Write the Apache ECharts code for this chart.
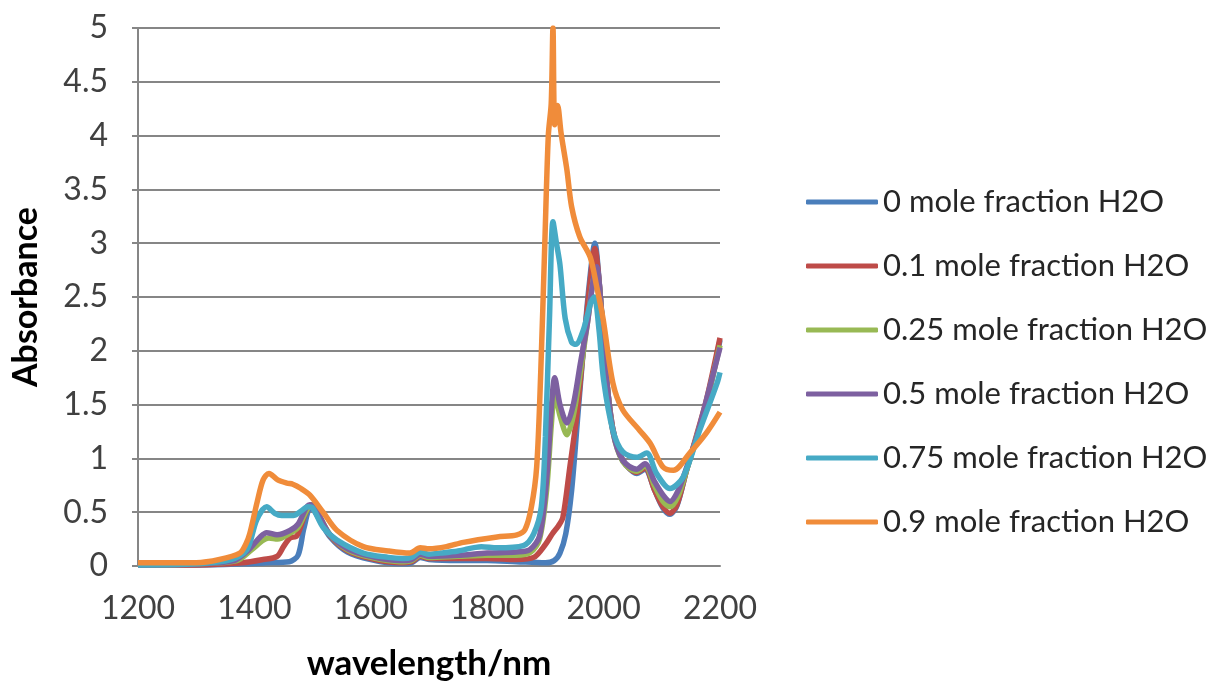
<!DOCTYPE html>
<html>
<head>
<meta charset="utf-8">
<script src="https://cdn.jsdelivr.net/npm/echarts@6/dist/echarts.min.js"></script>
<style>
  html, body { margin: 0; padding: 0; background: #fff; }
  #chart { width: 1223px; height: 683px; }
</style>
</head>
<body>
<div id="chart"></div>
<script>
// 各浓度的吸收光谱 [波长 nm, 吸光度]
var seriesNames = [
  "0 mole fraction H2O",
  "0.1 mole fraction H2O",
  "0.25 mole fraction H2O",
  "0.5 mole fraction H2O",
  "0.75 mole fraction H2O",
  "0.9 mole fraction H2O",
];

var water0 = [
  [1200, 0.01], [1300, 0.01], [1380, 0.02], [1420, 0.03], [1460, 0.04], [1475, 0.1],
  [1485, 0.35], [1497, 0.55], [1510, 0.45], [1530, 0.27], [1560, 0.13], [1600, 0.06],
  [1650, 0.02], [1670, 0.03], [1685, 0.08], [1700, 0.06], [1750, 0.05], [1800, 0.05],
  [1850, 0.04], [1900, 0.03], [1915, 0.05], [1925, 0.12], [1935, 0.3], [1945, 0.7],
  [1955, 1.35], [1965, 2.0], [1975, 2.6], [1985, 3.0], [1993, 2.6], [2003, 1.85],
  [2015, 1.3], [2027, 1.05], [2040, 0.93], [2057, 0.86], [2071, 0.9], [2088, 0.7],
  [2102, 0.54], [2114, 0.48], [2126, 0.56], [2143, 0.9], [2160, 1.2], [2177, 1.5],
  [2200, 2.1],
];

var water01 = [
  [1200, 0.01], [1300, 0.01], [1380, 0.03], [1415, 0.06], [1439, 0.09], [1450, 0.18],
  [1461, 0.26], [1473, 0.28], [1487, 0.48], [1497, 0.57], [1510, 0.47], [1530, 0.28],
  [1560, 0.14], [1600, 0.07], [1650, 0.03], [1670, 0.04], [1685, 0.09], [1700, 0.07],
  [1750, 0.07], [1800, 0.07], [1850, 0.06], [1880, 0.08], [1900, 0.2], [1912, 0.3],
  [1922, 0.37], [1930, 0.45], [1942, 0.92], [1954, 1.4], [1965, 2.0], [1975, 2.55],
  [1985, 2.95], [1993, 2.6], [2003, 1.85], [2015, 1.3], [2027, 1.05], [2040, 0.93],
  [2057, 0.87], [2071, 0.91], [2088, 0.7], [2102, 0.55], [2114, 0.49], [2126, 0.57],
  [2143, 0.9], [2160, 1.22], [2177, 1.55], [2200, 2.12],
];

var water025 = [
  [1200, 0.01], [1300, 0.02], [1370, 0.05], [1395, 0.15], [1415, 0.24], [1425, 0.26],
  [1440, 0.25], [1460, 0.3], [1475, 0.36], [1490, 0.52], [1498, 0.57], [1510, 0.48],
  [1530, 0.29], [1560, 0.15], [1600, 0.08], [1650, 0.04], [1670, 0.05], [1685, 0.1],
  [1700, 0.08], [1750, 0.09], [1800, 0.1], [1850, 0.1], [1875, 0.13], [1890, 0.25],
  [1902, 0.7], [1910, 1.3], [1916, 1.6], [1925, 1.4], [1937, 1.22], [1948, 1.4],
  [1960, 1.8], [1972, 2.25], [1982, 2.65], [1988, 2.75], [1996, 2.4], [2005, 1.75],
  [2016, 1.25], [2033, 0.97], [2057, 0.88], [2071, 0.93], [2088, 0.74], [2102, 0.6],
  [2114, 0.55], [2128, 0.65], [2143, 0.9], [2160, 1.2], [2177, 1.53], [2200, 2.05],
];

var water05 = [
  [1200, 0.01], [1300, 0.02], [1365, 0.05], [1390, 0.15], [1410, 0.27], [1421, 0.31],
  [1439, 0.29], [1461, 0.33], [1475, 0.39], [1490, 0.55], [1497, 0.57], [1510, 0.48],
  [1530, 0.29], [1560, 0.16], [1600, 0.09], [1650, 0.05], [1670, 0.06], [1685, 0.11],
  [1700, 0.09], [1750, 0.1], [1800, 0.12], [1850, 0.13], [1873, 0.15], [1890, 0.28],
  [1902, 0.8], [1910, 1.45], [1916, 1.75], [1925, 1.5], [1937, 1.33], [1948, 1.5],
  [1960, 1.88], [1972, 2.25], [1982, 2.65], [1988, 2.78], [1996, 2.4], [2005, 1.75],
  [2016, 1.25], [2033, 0.98], [2057, 0.9], [2071, 0.95], [2088, 0.78], [2102, 0.66],
  [2114, 0.6], [2128, 0.7], [2143, 0.92], [2160, 1.2], [2177, 1.55], [2200, 2.03],
];

var water075 = [
  [1200, 0.01], [1300, 0.02], [1360, 0.06], [1387, 0.15], [1404, 0.43], [1421, 0.55],
  [1435, 0.49], [1447, 0.47], [1467, 0.47], [1480, 0.51], [1492, 0.55], [1500, 0.54],
  [1518, 0.36], [1542, 0.24], [1587, 0.12], [1630, 0.08], [1655, 0.07], [1670, 0.08],
  [1685, 0.13], [1700, 0.11], [1720, 0.12], [1750, 0.14], [1790, 0.18], [1817, 0.17],
  [1862, 0.19], [1880, 0.3], [1893, 0.55], [1900, 1.2], [1907, 2.3], [1913, 3.2],
  [1919, 3.0], [1925, 2.8], [1934, 2.3], [1945, 2.08], [1952, 2.06], [1965, 2.19],
  [1978, 2.45], [1984, 2.5], [1992, 2.2], [2000, 1.73], [2016, 1.26], [2033, 1.06],
  [2057, 1.01], [2074, 1.05], [2091, 0.86], [2114, 0.72], [2137, 0.83], [2165, 1.26],
  [2195, 1.7], [2200, 1.8],
];

var water09 = [
  [1200, 0.03], [1300, 0.03], [1340, 0.06], [1375, 0.12], [1385, 0.2], [1392, 0.3],
  [1405, 0.6], [1415, 0.8], [1425, 0.86], [1440, 0.8], [1456, 0.77], [1466, 0.76],
  [1480, 0.72], [1495, 0.66], [1518, 0.5], [1542, 0.33], [1587, 0.18], [1630, 0.14],
  [1667, 0.12], [1685, 0.17], [1700, 0.16], [1730, 0.18], [1759, 0.22], [1817, 0.27],
  [1851, 0.29], [1865, 0.34], [1876, 0.55], [1885, 0.92], [1892, 1.8], [1899, 3.0],
  [1905, 4.0], [1910, 4.3], [1913, 5.0], [1916, 4.1], [1921, 4.28], [1927, 4.02],
  [1937, 3.68], [1945, 3.34], [1959, 3.06], [1977, 2.87], [1988, 2.6], [1999, 2.3],
  [2016, 1.7], [2033, 1.45], [2062, 1.26], [2080, 1.14], [2102, 0.92], [2120, 0.89],
  [2148, 1.05], [2177, 1.24], [2200, 1.43],
];

var seriesData = [water0, water01, water025, water05, water075, water09];
var colors = ["#4A7EBB", "#BE4B48", "#98B954", "#7D60A0", "#46AAC5", "#F08C3A"];

var chartDom = document.getElementById("chart");
var myChart = echarts.init(chartDom);
var fontFamily = "Lato";

var option = {
  animation: false,
  color: colors,
  textStyle: { fontFamily: fontFamily },
  grid: { left: 138, right: 503, top: 28, bottom: 117, outerBoundsMode: "none", containLabel: false },
  legend: {
    orient: "vertical",
    left: 806,
    top: 186,
    padding: 0,
    itemWidth: 72,
    itemHeight: 5,
    itemGap: 32,
    icon: "roundRect",
    textStyle: { fontSize: 31, color: "#262626", lineHeight: 32, fontFamily: fontFamily },
    data: seriesNames,
  },
  xAxis: {
    type: "value",
    min: 1200,
    max: 2200,
    interval: 200,
    name: "wavelength/nm",
    nameLocation: "middle",
    nameGap: 80,
    nameTextStyle: { fontSize: 35, fontWeight: "bold", color: "#000" },
    axisLine: { lineStyle: { color: "#868686", width: 2 } },
    axisTick: { show: false },
    splitLine: { show: false },
    axisLabel: {
      fontSize: 32,
      color: "#404040",
      margin: 27,
      formatter: function (v) { return String(v); },
    },
  },
  yAxis: {
    type: "value",
    min: 0,
    max: 5,
    interval: 0.5,
    name: "Absorbance",
    nameLocation: "middle",
    nameGap: 95,
    nameTextStyle: { fontSize: 34, fontWeight: "bold", color: "#000" },
    axisLine: { show: true, lineStyle: { color: "#868686", width: 2 } },
    axisTick: { show: true, length: 6, lineStyle: { color: "#868686", width: 2 } },
    splitLine: { lineStyle: { color: "#868686", width: 2 } },
    axisLabel: { fontSize: 32, color: "#404040", margin: 30 },
  },
  series: seriesData.map(function (d, i) {
    return {
      name: seriesNames[i],
      type: "line",
      data: d,
      symbol: "none",
      smooth: 0.3,
      lineStyle: { width: 5.5, color: colors[i] },
      z: 2 + i,
    };
  }),
};

option && myChart.setOption(option);
</script>
</body>
</html>
